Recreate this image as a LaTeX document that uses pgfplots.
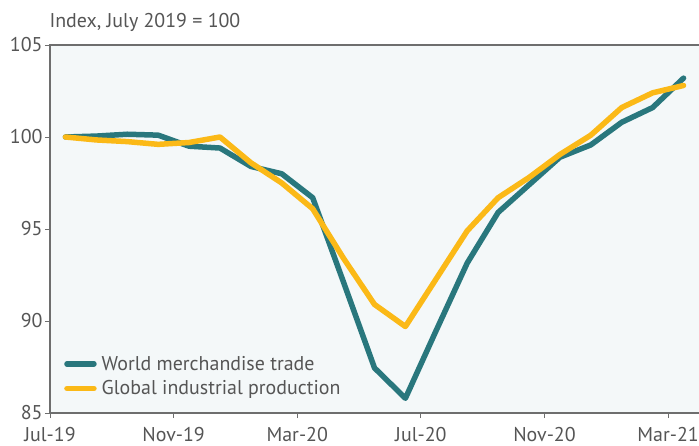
\documentclass[border=0pt]{standalone}
\usepackage{pgfplots}
\pgfplotsset{compat=1.18}
\usepackage{fontspec}
\setmainfont{PT Sans}
\definecolor{teal1}{RGB}{41,119,125}
\definecolor{gold1}{RGB}{251,185,23}
\definecolor{bgc}{RGB}{244,248,249}
\definecolor{txt}{RGB}{85,85,85}
\definecolor{axc}{RGB}{110,110,110}
\pgfplotstableread{
x trade prod
0.5 100.0 100.0
1.5 100.05 99.84
2.5 100.15 99.75
3.5 100.1 99.6
4.5 99.5 99.7
5.5 99.4 100.0
6.5 98.4 98.6
7.5 98.0 97.5
8.5 96.7 96.1
9.5 92.1 93.4
10.5 87.45 90.9
11.5 85.8 89.7
12.5 89.5 92.3
13.5 93.15 94.9
14.5 95.9 96.7
15.5 97.4 97.8
16.5 98.9 99.05
17.5 99.57 100.1
18.5 100.8 101.6
19.5 101.6 102.4
20.5 103.2 102.8
}\datatable
\begin{document}
\begin{tikzpicture}
\begin{axis}[
  name=ax,
  scale only axis,
  width=649bp, height=368bp,
  xmin=0, xmax=21, ymin=85, ymax=105,
  axis background/.style={fill=bgc},
  axis line style={draw=none},
  xtick={0,4,8,12,16,20},
  xticklabels={Jul-19,Nov-19,Mar-20,Jul-20,Nov-20,Mar-21},
  ytick={85,90,95,100,105},
  xtick pos=bottom, ytick pos=left,
  tick align=outside,
  major tick length=5bp,
  tick style={axc, line width=0.8bp},
  ticklabel style={font=\fontsize{20}{24}\selectfont, text=txt},
  /pgf/number format/assume math mode=true,
  xticklabel style={yshift=-6bp},
  yticklabel style={xshift=1bp},
  legend style={at={(0.017,0.166)}, anchor=north west, draw=none, fill=none,
    font=\fontsize{20}{24}\selectfont, text=txt, row sep=5bp,
    /tikz/every even column/.append style={column sep=4bp}},
  legend cell align=left,
  legend image code/.code={\draw[#1, line width=5.5bp, line cap=round] (0bp,0bp) -- (27bp,0bp);},
  clip=false,
]
\draw[axc, line width=1.2bp] (rel axis cs:1,1) -- (rel axis cs:0,1) -- (rel axis cs:0,0) -- (rel axis cs:1,0);
\addplot[teal1, line width=5.5bp, line cap=round, line join=round] table[x=x,y=trade] {\datatable};
\addlegendentry{\hspace{3bp}World merchandise trade}
\addplot[gold1, line width=5.5bp, line cap=round, line join=round] table[x=x,y=prod] {\datatable};
\addlegendentry{\hspace{3bp}Global industrial production}
\end{axis}
\node[anchor=base west, font=\fontsize{20}{24}\selectfont, text=txt] at ([xshift=-4bp,yshift=17bp]ax.north west) {Index, July 2019 = 100};
\pgfresetboundingbox
\path ([xshift=-50bp,yshift=-33bp]ax.south west) rectangle ([yshift=45bp]ax.north east);
\end{tikzpicture}
\end{document}
